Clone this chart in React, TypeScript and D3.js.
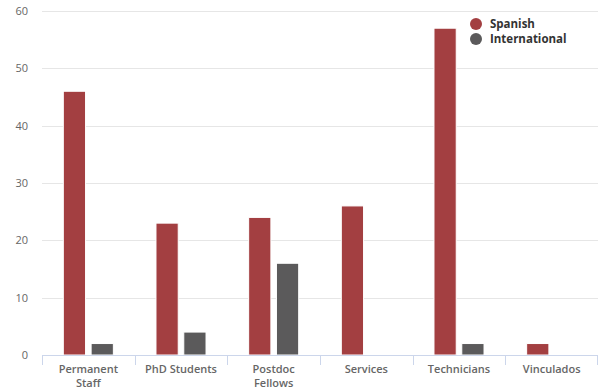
import React from "react";
import * as d3 from "d3";

const categories = ["Permanent Staff", "PhD Students", "Postdoc Fellows", "Services", "Technicians", "Vinculados"];
const seriesNames = ["Spanish", "International"];
const spanish = [46, 23, 24, 26, 57, 2];
const international = [2, 4, 16, 0, 2, 0];
const yTicks = [0, 10, 20, 30, 40, 50, 60];
const colors = ["#a33f41", "#5b5a5b"];

const W = 599;
const H = 390;
const left = 42;
const right = 598;
const top = 11;
const bottom = 355;
const FONT = "'Open Sans', 'DejaVu Sans', sans-serif";

function wrap(label: string): string[] {
  return label.length > 12 ? label.split(" ") : [label];
}

export default function App() {
  const y = d3.scaleLinear().domain([0, 60]).range([bottom, top]);
  const x0 = d3.scaleBand<string>().domain(categories).range([left, right]).padding(0);
  const bw = x0.bandwidth();
  const gp = bw * 0.2;
  const x1 = d3.scaleBand<string>().domain(seriesNames).range([gp, bw - gp]).padding(0);
  const step = x1.bandwidth();
  const pp = step * 0.1;
  const data = [spanish, international];

  return (
    <svg width={W} height={H} style={{ position: "absolute", left: 0, top: 0 }} fontFamily={FONT}>
      <rect width={W} height={H} fill="#ffffff" />
      {yTicks.map((t) =>
        t === 0 ? null : (
          <line key={"g" + t} x1={left} x2={right} y1={Math.round(y(t)) + 0.5} y2={Math.round(y(t)) + 0.5} stroke="#e6e6e6" strokeWidth={1} />
        )
      )}
      {yTicks.map((t) => (
        <text key={"yl" + t} x={28} y={y(t) + 4} textAnchor="end" fontSize={11} fill="#666666">
          {t}
        </text>
      ))}
      {data.map((vals, si) =>
        categories.map((c, ci) => {
          const v = vals[ci];
          if (v <= 0) return null;
          const xs = (x0(c) as number) + (x1(seriesNames[si]) as number) + pp;
          return (
            <rect
              key={si + "-" + ci}
              x={xs}
              y={y(v)}
              width={step - 2 * pp}
              height={bottom - y(v)}
              fill={colors[si]}
              stroke="#ffffff"
              strokeWidth={1}
            />
          );
        })
      )}
      <line x1={left} x2={right} y1={bottom + 0.5} y2={bottom + 0.5} stroke="#ccd6eb" strokeWidth={1} />
      {categories.map((c, i) => (
        <line key={"t" + i} x1={Math.round(x0(c) as number) + 0.5} x2={Math.round(x0(c) as number) + 0.5} y1={bottom} y2={bottom + 10} stroke="#ccd6eb" />
      ))}
      <line x1={right - 0.5} x2={right - 0.5} y1={bottom} y2={bottom + 10} stroke="#ccd6eb" />
      {categories.map((c) => {
        const cx = (x0(c) as number) + bw / 2;
        return (
          <text key={"xl" + c} x={cx} y={373} textAnchor="middle" fontSize={11} fontWeight={600} fill="#666666">
            {wrap(c).map((ln, li) => (
              <tspan key={li} x={cx} dy={li === 0 ? 0 : 14}>
                {ln}
              </tspan>
            ))}
          </text>
        );
      })}
      {seriesNames.map((s, i) => (
        <g key={"lg" + s} transform={`translate(476, ${24 + i * 15})`}>
          <circle r={6} fill={colors[i]} />
          <text x={14} y={4} fontSize={11.5} fontWeight={700} fill="#333333">
            {s}
          </text>
        </g>
      ))}
    </svg>
  );
}
